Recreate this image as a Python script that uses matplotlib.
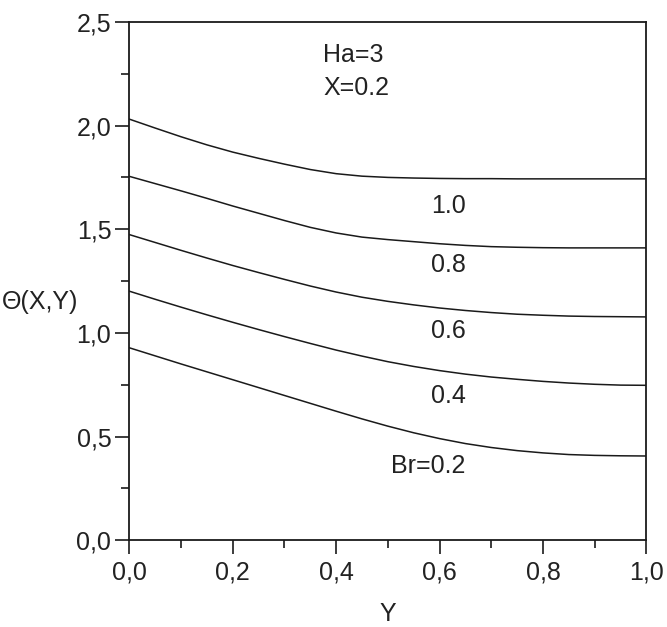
import matplotlib
matplotlib.use("Agg")
import matplotlib.pyplot as plt
from matplotlib.ticker import MultipleLocator, FuncFormatter

plt.rcParams['font.family'] = ['Liberation Sans', 'DejaVu Sans']

# Data (Y = 0, 0.05, ..., 1.0)
Y = [0.00, 0.05, 0.10, 0.15, 0.20, 0.25, 0.30, 0.35, 0.40, 0.45, 0.50,
     0.55, 0.60, 0.65, 0.70, 0.75, 0.80, 0.85, 0.90, 0.95, 1.00]
br_10 = [2.031, 1.988, 1.946, 1.907, 1.872, 1.842, 1.814, 1.788, 1.768, 1.756, 1.750,
         1.747, 1.745, 1.744, 1.744, 1.743, 1.743, 1.743, 1.743, 1.743, 1.743]
br_08 = [1.755, 1.720, 1.685, 1.649, 1.612, 1.577, 1.542, 1.509, 1.482, 1.462, 1.450,
         1.440, 1.430, 1.422, 1.416, 1.413, 1.411, 1.410, 1.410, 1.410, 1.410]
br_06 = [1.474, 1.436, 1.398, 1.361, 1.325, 1.291, 1.258, 1.226, 1.197, 1.172, 1.152,
         1.135, 1.120, 1.108, 1.098, 1.090, 1.085, 1.081, 1.079, 1.078, 1.077]
br_04 = [1.201, 1.162, 1.124, 1.087, 1.051, 1.016, 0.982, 0.949, 0.917, 0.888, 0.861,
         0.838, 0.818, 0.801, 0.787, 0.776, 0.766, 0.758, 0.752, 0.748, 0.747]
br_02 = [0.928, 0.889, 0.850, 0.812, 0.774, 0.736, 0.698, 0.660, 0.622, 0.585, 0.550,
         0.518, 0.490, 0.466, 0.447, 0.432, 0.421, 0.413, 0.409, 0.407, 0.406]

series = [br_10, br_08, br_06, br_04, br_02]
curve_labels = ["1.0", "0.8", "0.6", "0.4", "Br=0.2"]
label_y = [1.614, 1.326, 1.008, 0.695, 0.36]

TXT = '#222222'
FS = 18

fig = plt.figure(figsize=(6.67, 6.27), dpi=100)
ax = fig.add_axes([0.194, 0.1385, 0.775, 0.8265])

for s in series:
    ax.plot(Y, s, color='#1a1a1a', lw=1.1)

for lab, yy in zip(curve_labels, label_y):
    ax.text(0.65, yy, lab, ha='right', va='center', fontsize=FS, color=TXT)

ax.text(0.375, 2.34, "Ha=3", ha='left', va='center', fontsize=FS, color=TXT)
ax.text(0.375, 2.18, "X=0.2", ha='left', va='center', fontsize=FS, color=TXT)

ax.set_xlim(0, 1.0)
ax.set_ylim(0, 2.5)

ax.xaxis.set_major_locator(MultipleLocator(0.2))
ax.xaxis.set_minor_locator(MultipleLocator(0.1))
ax.yaxis.set_major_locator(MultipleLocator(0.5))
ax.yaxis.set_minor_locator(MultipleLocator(0.25))

comma = FuncFormatter(lambda v, p: f"{v:.1f}".replace('.', ','))
ax.xaxis.set_major_formatter(comma)
ax.yaxis.set_major_formatter(comma)

ax.tick_params(which='major', direction='out', length=10, width=1.2,
               labelsize=FS, labelcolor=TXT, color='#1a1a1a', top=False, right=False)
ax.tick_params(axis='x', which='major', pad=5)
ax.tick_params(axis='y', which='major', pad=3)
ax.tick_params(which='minor', direction='out', length=6, width=1.2,
               color='#1a1a1a', top=False, right=False)

for sp in ax.spines.values():
    sp.set_linewidth(1.3)
    sp.set_color('#1a1a1a')

ax.set_xlabel("Y", fontsize=FS, color=TXT, labelpad=12)
ax.text(-0.099, 1.15, "Θ(X,Y)", transform=ax.get_yaxis_transform(),
        ha='right', va='center', fontsize=FS, color=TXT)

fig.savefig("out.png", dpi=100)
